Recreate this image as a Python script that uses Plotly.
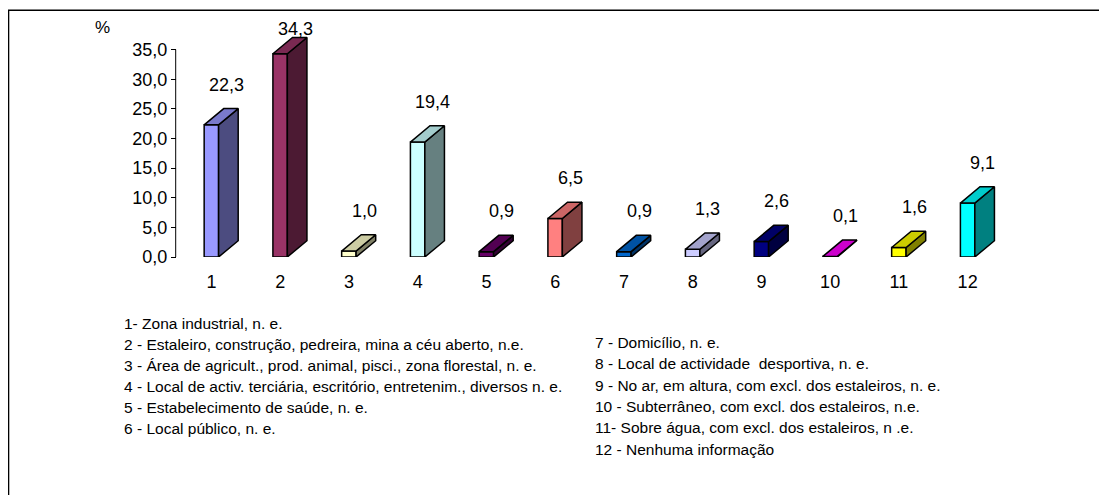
import numpy as np
import plotly.graph_objects as go

# ---------------- data ----------------
categories = ["1", "2", "3", "4", "5", "6", "7", "8", "9", "10", "11", "12"]
values = [22.3, 34.3, 1.0, 19.4, 0.9, 6.5, 0.9, 1.3, 2.6, 0.1, 1.6, 9.1]
value_labels = ["22,3", "34,3", "1,0", "19,4", "0,9", "6,5", "0,9", "1,3", "2,6", "0,1", "1,6", "9,1"]
y_tickvals = [0, 5, 10, 15, 20, 25, 30, 35]
y_ticktext = ["0,0", "5,0", "10,0", "15,0", "20,0", "25,0", "30,0", "35,0"]
legend_left = [
    "1- Zona industrial, n. e.",
    "2 - Estaleiro, construção, pedreira, mina a céu aberto, n.e.",
    "3 - Área de agricult., prod. animal, pisci., zona florestal, n. e.",
    "4 - Local de activ. terciária, escritório, entretenim., diversos n. e.",
    "5 - Estabelecimento de saúde, n. e.",
    "6 - Local público, n. e.",
]
legend_right = [
    "7 - Domicílio, n. e.",
    "8 - Local de actividade  desportiva, n. e.",
    "9 - No ar, em altura, com excl. dos estaleiros, n. e.",
    "10 - Subterrâneo, com excl. dos estaleiros, n.e.",
    "11- Sobre água, com excl. dos estaleiros, n .e.",
    "12 - Nenhuma informação",
]
front_colors = ["#9999FF", "#993366", "#FFFFCC", "#CCFFFF", "#660066", "#FF8080",
                "#0066CC", "#CCCCFF", "#000080", "#FF00FF", "#FFFF00", "#00FFFF"]

# ---------------- styling / geometry ----------------
FONT = "Arial, Liberation Sans, sans-serif"
OFF = 8                      # page body margin offset
W, H = 1107 - OFF, 495 - OFF
# plot area in page pixel coordinates
PL, PR = 177.3, 1002.3
PT, PB = 19.7, 256.7
half_w = 0.105               # front-face half width (category units)
depth_x = 0.285              # depth offset (category units)
depth_y = 2.75               # depth offset (value units)


def shade(hexc, f):
    h = hexc.lstrip("#")
    r, g, b = (int(h[i:i + 2], 16) for i in (0, 2, 4))
    return "rgb(%d,%d,%d)" % (round(r * f), round(g * f), round(b * f))


def px_x(px):
    return (px - PL) / (PR - PL)


def px_y(py):
    return (PB - py) / (PB - PT)


xpos = np.arange(1, len(values) + 1, dtype=float)
vals = np.array(values)

fig = go.Figure()

# front faces
fig.add_trace(go.Bar(
    x=xpos, y=vals, width=2 * half_w,
    marker=dict(color=front_colors, line=dict(color="black", width=1.5)),
    hoverinfo="skip", showlegend=False,
))

# side and top faces
for xi, v, c in zip(xpos, vals, front_colors):
    sx = [xi + half_w, xi + half_w + depth_x, xi + half_w + depth_x, xi + half_w, xi + half_w]
    sy = [0, depth_y, v + depth_y, v, 0]
    fig.add_trace(go.Scatter(
        x=sx, y=sy, mode="lines", fill="toself", fillcolor=shade(c, 0.5),
        line=dict(color="black", width=1.5), hoverinfo="skip", showlegend=False,
    ))
    tx = [xi - half_w, xi + half_w, xi + half_w + depth_x, xi - half_w + depth_x, xi - half_w]
    ty = [v, v, v + depth_y, v + depth_y, v]
    fig.add_trace(go.Scatter(
        x=tx, y=ty, mode="lines", fill="toself", fillcolor=shade(c, 0.8),
        line=dict(color="black", width=1.5), hoverinfo="skip", showlegend=False,
    ))

annotations = []
# value labels
label_y = np.minimum(vals + 6.8, 38.4)
for xi, ly, t in zip(xpos, label_y, value_labels):
    annotations.append(dict(
        x=xi + 0.22, y=ly, xref="x", yref="y", text=t, showarrow=False,
        font=dict(family=FONT, size=18, color="black"),
        xanchor="center", yanchor="middle",
    ))

# % unit label
annotations.append(dict(
    x=px_x(103), y=px_y(27), xref="paper", yref="paper", text="%", showarrow=False,
    font=dict(family=FONT, size=17, color="black"), xanchor="center", yanchor="middle",
))

# legend text columns
for i, t in enumerate(legend_left):
    annotations.append(dict(
        x=px_x(122), y=px_y(323 + 21 * i), xref="paper", yref="paper", text=t,
        showarrow=False, font=dict(family=FONT, size=15.5, color="black"),
        xanchor="left", yanchor="middle",
    ))
for i, t in enumerate(legend_right):
    annotations.append(dict(
        x=px_x(593), y=px_y(342 + 21.4 * i), xref="paper", yref="paper", text=t,
        showarrow=False, font=dict(family=FONT, size=15.5, color="black"),
        xanchor="left", yanchor="middle",
    ))

shapes = [
    # y axis line (0 to 35)
    dict(type="line", xref="paper", yref="y", x0=px_x(176), x1=px_x(176),
         y0=0, y1=35, line=dict(color="black", width=1)),
    # outer frame (left and top)
    dict(type="line", xref="paper", yref="paper", x0=px_x(OFF + 0.8), x1=px_x(OFF + 0.8),
         y0=px_y(10), y1=px_y(500), line=dict(color="black", width=1.6)),
    dict(type="line", xref="paper", yref="paper", x0=px_x(OFF), x1=px_x(1110),
         y0=px_y(10), y1=px_y(10), line=dict(color="black", width=1.6)),
]

fig.update_layout(
    width=W, height=H,
    margin=dict(l=PL - OFF, r=(W + OFF) - PR, t=PT - OFF, b=(H + OFF) - PB, pad=0),
    paper_bgcolor="white", plot_bgcolor="white",
    showlegend=False,
    annotations=annotations,
    shapes=shapes,
    font=dict(family=FONT, color="black"),
)
fig.update_xaxes(
    range=[0.5, 12.5], tickmode="array", tickvals=xpos, ticktext=categories,
    showgrid=False, zeroline=False, showline=False, ticks="",
    tickfont=dict(family=FONT, size=18, color="black"), ticklabelstandoff=12,
)
fig.update_yaxes(
    range=[0, 40], tickmode="array", tickvals=y_tickvals, ticktext=y_ticktext,
    showgrid=False, zeroline=False, showline=False,
    ticks="outside", ticklen=5, tickcolor="black", tickwidth=1,
    tickfont=dict(family=FONT, size=18, color="black"),
)

fig.write_html("out.html")
